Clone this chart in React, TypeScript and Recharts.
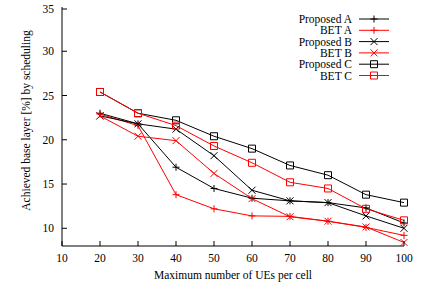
import React from 'react'
import { LineChart, Line, XAxis, YAxis, Legend } from 'recharts'

const users = [20, 30, 40, 50, 60, 70, 80, 90, 100]
const proposedA = [23.0, 21.8, 16.9, 14.5, 13.4, 13.1, 12.9, 12.3, 10.6]
const betA = [22.9, 21.6, 13.8, 12.2, 11.4, 11.35, 10.8, 10.1, 9.2]
const proposedB = [22.7, 21.8, 21.2, 18.2, 14.3, 13.1, 12.9, 11.4, 10.0]
const betB = [22.7, 20.4, 19.9, 16.2, 13.35, 11.3, 10.8, 10.15, 8.4]
const proposedC = [25.4, 23.0, 22.2, 20.4, 19.0, 17.1, 16.0, 13.8, 12.9]
const betC = [25.4, 23.0, 21.6, 19.3, 17.4, 15.2, 14.5, 12.2, 10.9]

const xTicks = [10, 20, 30, 40, 50, 60, 70, 80, 90, 100]
const yTicks = [10, 15, 20, 25, 30, 35]

const series = [
  { key: 'propA', name: 'Proposed A', color: '#000000', shape: 'plus', values: proposedA },
  { key: 'betA', name: 'BET A', color: '#ff0000', shape: 'plus', values: betA },
  { key: 'propB', name: 'Proposed B', color: '#000000', shape: 'cross', values: proposedB },
  { key: 'betB', name: 'BET B', color: '#ff0000', shape: 'cross', values: betB },
  { key: 'propC', name: 'Proposed C', color: '#000000', shape: 'square', values: proposedC },
  { key: 'betC', name: 'BET C', color: '#ff0000', shape: 'square', values: betC },
]

const data = users.map((u, i) => {
  const row: Record<string, number> = { users: u }
  series.forEach(s => { row[s.key] = s.values[i] })
  return row
})

const FONT = 'Liberation Serif, Times New Roman, serif'
const S = 3.5

function markerPath(shape: string, cx: number, cy: number) {
  if (shape === 'plus') return `M${cx - S},${cy}H${cx + S}M${cx},${cy - S}V${cy + S}`
  if (shape === 'cross') return `M${cx - S},${cy - S}L${cx + S},${cy + S}M${cx - S},${cy + S}L${cx + S},${cy - S}`
  return `M${cx - S},${cy - S}H${cx + S}V${cy + S}H${cx - S}Z`
}

const dotFor = (shape: string, color: string) => (p: any) => (
  <path key={`${shape}-${color}-${p.index}`} d={markerPath(shape, p.cx, p.cy)} stroke={color} strokeWidth={1} fill="none" />
)

const BottomTick = (p: any) => (
  <g>
    <line x1={p.x} x2={p.x} y1={p.y} y2={p.y - 5} stroke="#000" />
    <text x={p.x} y={p.y + 12} textAnchor="middle" dominantBaseline="central" fontSize={11.5} fontFamily={FONT} fill="#000">
      {p.payload.value}
    </text>
  </g>
)

const LeftTick = (p: any) => (
  <g>
    <line x1={p.x} x2={p.x + 5} y1={p.y} y2={p.y} stroke="#000" />
    <text x={p.x - 8} y={p.y} textAnchor="end" dominantBaseline="central" fontSize={11.5} fontFamily={FONT} fill="#000">
      {p.payload.value}
    </text>
  </g>
)

const TopTick = (p: any) => <line x1={p.x} x2={p.x} y1={p.y} y2={p.y + 5} stroke="#000" />
const RightTick = (p: any) => <line x1={p.x} x2={p.x - 5} y1={p.y} y2={p.y} stroke="#000" />

// legend kept in the plotting order, not the alphabetical one
const renderLegend = () => (
  <svg width={432} height={90}>
    {series.map((s, i) => {
      const y = 19 + i * 11.3
      return (
        <g key={s.key}>
          <text x={352} y={y} textAnchor="end" dominantBaseline="central" fontSize={11.5} fontFamily={FONT} fill="#000">
            {s.name}
          </text>
          <line x1={359} x2={389} y1={y} y2={y} stroke={s.color} />
          <path d={markerPath(s.shape, 374, y)} stroke={s.color} fill="none" />
        </g>
      )
    })}
  </svg>
)

export default function App() {
  return (
    <div style={{ position: 'absolute', left: 0, top: 0, width: 432, height: 288, background: '#fff' }}>
      <LineChart width={432} height={288} data={data} margin={{ top: 7, right: 28, bottom: 0, left: 0 }} style={{ fontFamily: FONT }}>
        <XAxis
          dataKey="users"
          type="number"
          domain={[10, 100]}
          ticks={xTicks}
          height={42}
          tickSize={0}
          tickMargin={0}
          tick={<BottomTick />}
          tickLine={false}
          axisLine={{ stroke: '#000' }}
          label={{ value: 'Maximum number of UEs per cell', position: 'insideBottom', offset: 9, fill: '#000', fontSize: 11.5, fontFamily: FONT }}
        />
        <XAxis
          xAxisId="top"
          orientation="top"
          dataKey="users"
          type="number"
          domain={[10, 100]}
          ticks={xTicks}
          height={0}
          tickSize={0}
          tickMargin={0}
          tick={<TopTick />}
          tickLine={false}
          axisLine={{ stroke: '#000' }}
        />
        <YAxis
          type="number"
          domain={[8, 35]}
          ticks={yTicks}
          width={62}
          tickSize={0}
          tickMargin={0}
          tick={<LeftTick />}
          tickLine={false}
          axisLine={{ stroke: '#000' }}
          label={{ value: 'Achieved base layer [%] by scheduling', angle: -90, position: 'center', dx: -5, dy: -6, fill: '#000', fontSize: 11.5, fontFamily: FONT }}
        />
        <YAxis
          yAxisId="right"
          orientation="right"
          type="number"
          domain={[8, 35]}
          ticks={yTicks}
          width={0}
          tickSize={0}
          tickMargin={0}
          tick={<RightTick />}
          tickLine={false}
          axisLine={{ stroke: '#000' }}
        />
        <Legend layout="vertical" align="center" verticalAlign="middle" content={renderLegend}
          wrapperStyle={{ position: 'absolute', top: 0, left: 0, width: 432, height: 90 }} />
        {series.map(s => (
          <Line
            key={s.key}
            dataKey={s.key}
            name={s.name}
            stroke={s.color}
            strokeWidth={1}
            dot={dotFor(s.shape, s.color)}
            activeDot={false}
            isAnimationActive={false}
          />
        ))}
      </LineChart>
    </div>
  )
}
